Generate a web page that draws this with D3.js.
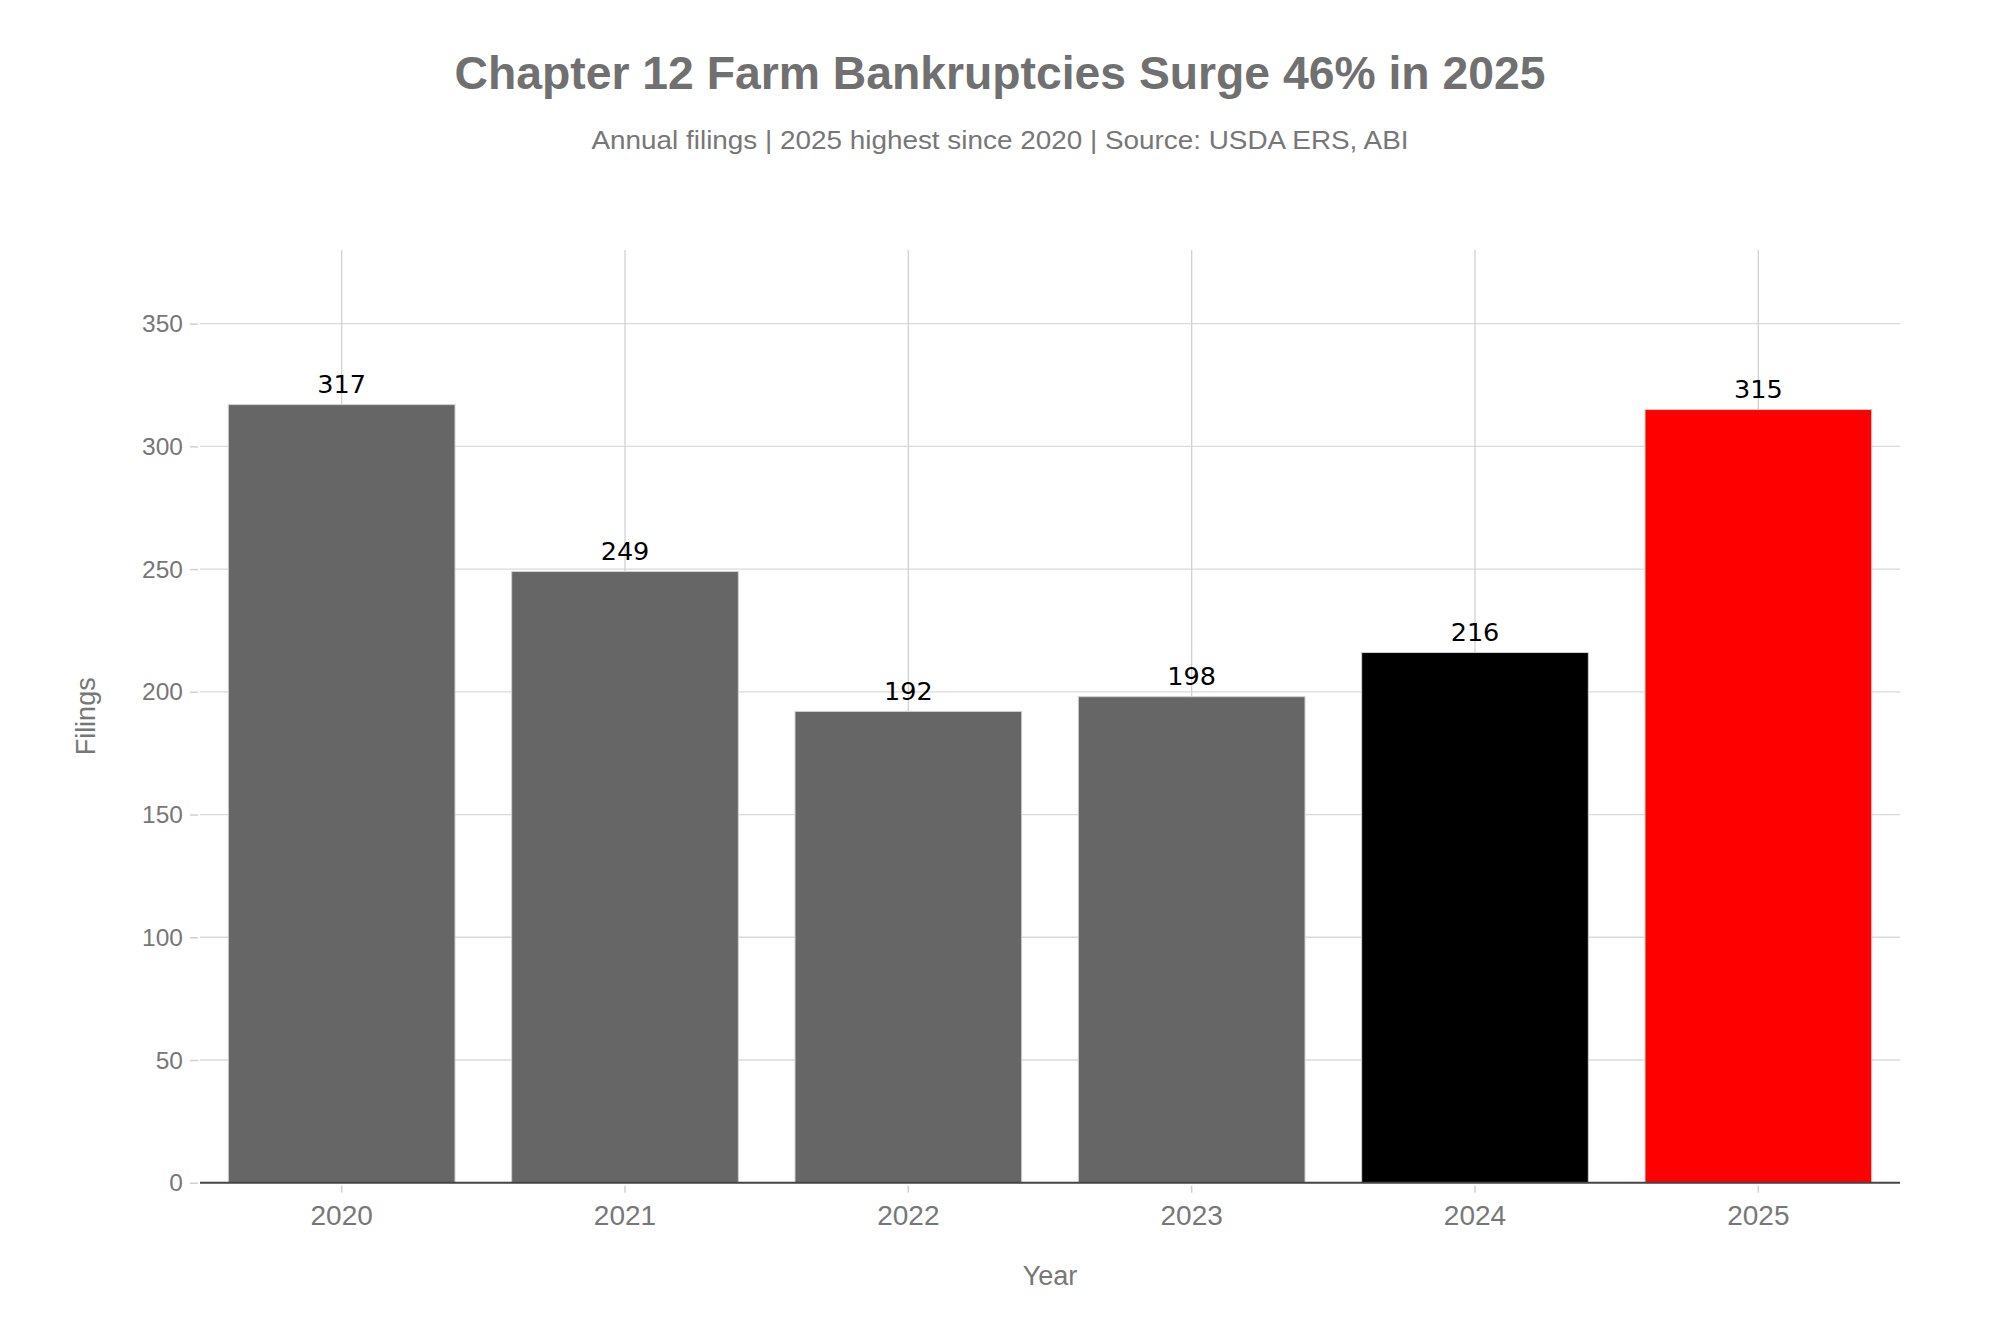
<!DOCTYPE html>
<html><head><meta charset="utf-8">
<script src="https://cdn.jsdelivr.net/npm/d3@7"></script>
<style>body{margin:0;background:#fff}svg{display:block}</style>
</head><body>
<script>
const years = ["2020","2021","2022","2023","2024","2025"];
const filings = [317, 249, 192, 198, 216, 315];
const barColors = ["#666666","#666666","#666666","#666666","#000000","#ff0000"];
const yTicks = [0,50,100,150,200,250,300,350];
const titleText = "Chapter 12 Farm Bankruptcies Surge 46% in 2025";
const subtitleText = "Annual filings | 2025 highest since 2020 | Source: USDA ERS, ABI";

const W = 2000, H = 1333;
const m = {left:200, right:100, top:250, bottom:150};
const svg = d3.select("body").append("svg").attr("width",W).attr("height",H);
const font = "'Liberation Sans', Arial, sans-serif";

const x = d3.scaleBand().domain(years).range([m.left, W-m.right]).paddingInner(0.2).paddingOuter(0.1);
const y = d3.scaleLinear().domain([0,380]).range([H-m.bottom-0.3, m.top]);

// gridlines
svg.append("g").selectAll("line").data(yTicks.slice(1)).join("line")
  .attr("x1",m.left).attr("x2",W-m.right).attr("y1",d=>y(d)).attr("y2",d=>y(d))
  .attr("stroke","#dadada").attr("stroke-width",1.3);
svg.append("g").selectAll("line").data(years).join("line")
  .attr("x1",d=>x(d)+x.bandwidth()/2).attr("x2",d=>x(d)+x.bandwidth()/2)
  .attr("y1",m.top).attr("y2",y(0))
  .attr("stroke","#d2d2d2").attr("stroke-width",1.3);

// bars
svg.append("g").selectAll("rect").data(years).join("rect")
  .attr("x",d=>x(d)).attr("width",x.bandwidth())
  .attr("y",(d,i)=>y(filings[i])).attr("height",(d,i)=>y(0)-y(filings[i]))
  .attr("fill",(d,i)=>barColors[i]).attr("stroke","#d0d0d0").attr("stroke-width",1);

// value labels
svg.append("g").selectAll("text").data(years).join("text")
  .attr("x",d=>x(d)+x.bandwidth()/2).attr("y",(d,i)=>y(filings[i])-11.5)
  .attr("text-anchor","middle").attr("font-family","'DejaVu Sans', sans-serif")
  .attr("font-size",25.5).attr("fill","#000").text((d,i)=>filings[i]);

// y axis
const yAxis = svg.append("g").attr("transform",`translate(${m.left},0)`)
  .call(d3.axisLeft(y).tickValues(yTicks).tickSize(9).tickPadding(8));
yAxis.select(".domain").remove();
yAxis.selectAll(".tick line").attr("stroke","#d0d0d0").attr("stroke-width",1.5).attr("x2",-2).attr("x1",-10);
yAxis.selectAll(".tick text").attr("font-family",font).attr("font-size",24.5).attr("fill","#777")
  .attr("x",-17).attr("dy","0.33em");

// x axis
const xAxis = svg.append("g").attr("transform",`translate(0,${y(0)})`)
  .call(d3.axisBottom(x).tickSize(0).tickPadding(30));
xAxis.select(".domain").attr("stroke","#444").attr("stroke-width",2).attr("d",`M${m.left},0H${W-m.right}`);
xAxis.selectAll(".tick text").attr("font-family",font).attr("font-size",28).attr("fill","#777")
  .attr("y",42).attr("dy",0);
xAxis.selectAll(".tick").append("line").attr("y1",3).attr("y2",10).attr("stroke","#d0d0d0").attr("stroke-width",1.5);

// titles
svg.append("text").attr("x",1000).attr("y",89).attr("text-anchor","middle")
  .attr("font-family",font).attr("font-weight","bold").attr("font-size",46)
  .attr("fill","#707070").attr("textLength",1091).attr("lengthAdjust","spacingAndGlyphs").text(titleText);
svg.append("text").attr("x",1000).attr("y",149).attr("text-anchor","middle")
  .attr("font-family",font).attr("font-size",25)
  .attr("fill","#777").attr("textLength",817).attr("lengthAdjust","spacingAndGlyphs").text(subtitleText);

// axis titles
svg.append("text").attr("x",(m.left+W-m.right)/2).attr("y",1285).attr("text-anchor","middle")
  .attr("font-family",font).attr("font-size",27).attr("fill","#777").text("Year");
svg.append("text").attr("transform",`translate(95,${(m.top+y(0))/2}) rotate(-90)`).attr("text-anchor","middle")
  .attr("font-family",font).attr("font-size",27).attr("fill","#777").text("Filings");
</script>
</body></html>
